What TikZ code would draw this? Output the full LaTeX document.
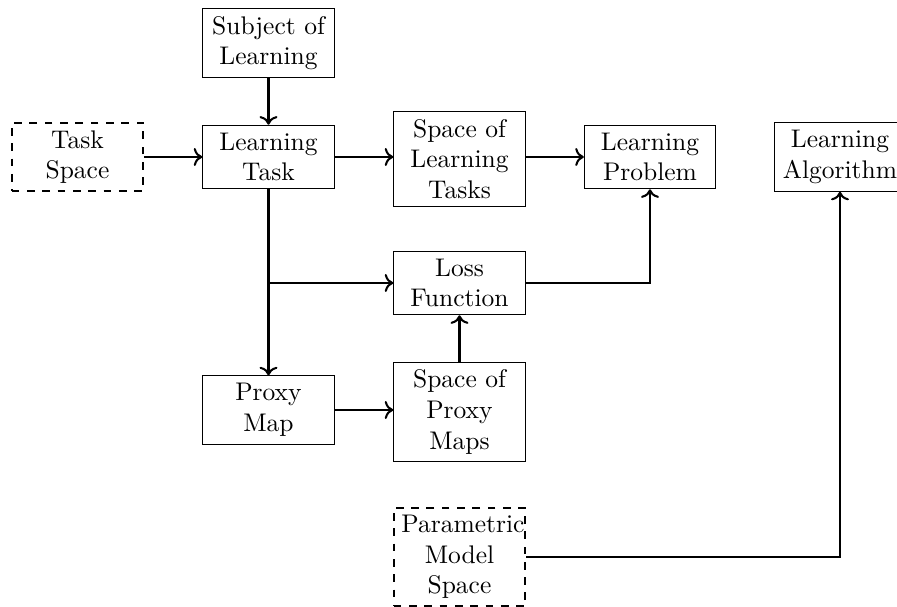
\documentclass[tikz,border=0pt]{standalone}
\usetikzlibrary{arrows.meta}
\begin{document}
\begin{tikzpicture}[x=0.3922pt,y=-0.3922pt,
  box/.style={draw, thin, text width=1.6cm, align=center, inner sep=3pt, font=\normalsize},
  dbox/.style={box, thick, dashed},
  link/.style={thick, ->}]
\useasboundingbox (0,0) rectangle (897,607);

\node[box]  (subj)  at (268.5,43)  {Subject of Learning};
\node[dbox] (tsp)   at (77.5,157)  {Task Space};
\node[box]  (lt)    at (268.5,157) {Learning Task};
\node[box]  (slt)   at (459.5,159) {Space of Learning Tasks};
\node[box]  (prob)  at (650,157)   {Learning Problem};
\node[box]  (alg)   at (840,157)   {Learning Algorithm};
\node[box]  (loss)  at (459.5,283) {Loss Function};
\node[box]  (proxy) at (268.5,410) {Proxy Map};
\node[box]  (spm)   at (459.5,412) {Space of Proxy Maps};
\node[dbox] (pms)   at (459.5,557) {Parametric Model Space};

\draw[link] (subj) -- (lt);
\draw[link] (tsp) -- (lt);
\draw[link] (lt) -- (lt -| slt.west);
\draw[link] (slt.east |- prob) -- (prob);
\draw[link] (lt) -- (proxy);
\draw[link] (lt.south |- loss.west) -- (loss.west);
\draw[link] (proxy) -- (proxy -| spm.west);
\draw[link] (spm) -- (loss);
\draw[link] (loss.east) -| (prob.south);
\draw[link] (pms.east) -| (alg.south);
\end{tikzpicture}
\end{document}
